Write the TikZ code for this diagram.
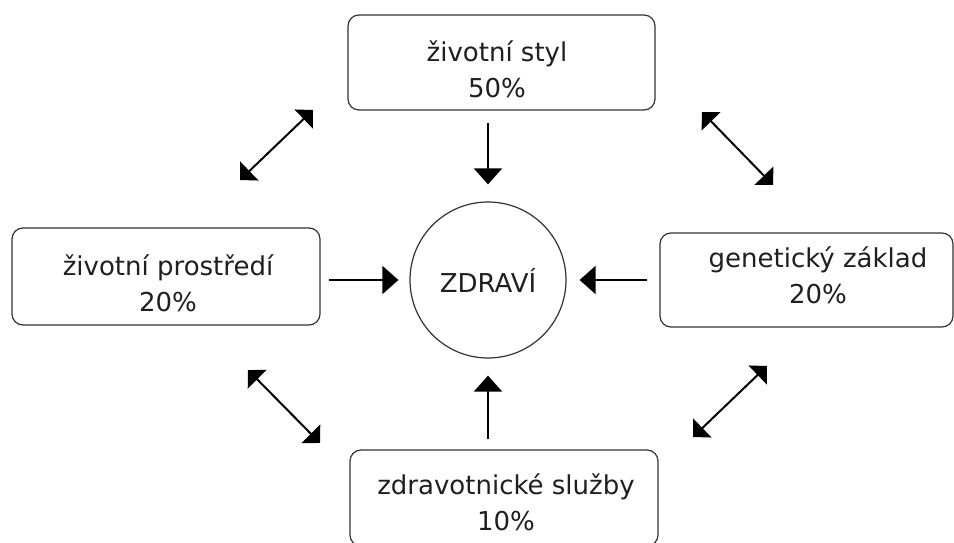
\documentclass[tikz,border=0pt]{standalone}
\usepackage{fontspec}
\setmainfont{DejaVu Sans}
\usetikzlibrary{arrows.meta,calc}
\begin{document}
\begin{tikzpicture}[x=1pt,y=-1pt,
  box/.style={draw=black!80, line width=1.2pt, rounded corners=11pt, fill=white, inner sep=0pt},
  lbl/.style={align=center, font=\fontsize{26}{36}\selectfont, text=black!88, inner sep=0pt},
  arr/.style={line width=2pt, -{Triangle[length=16pt,width=28pt]}},
  darr/.style={line width=2pt, {Triangle[length=13pt,width=26pt]}-{Triangle[length=13pt,width=26pt]}}]
\useasboundingbox (0,0) rectangle (954,543);
% boxes
\node[box, minimum width=307pt, minimum height=95pt] (top) at (501.5,62.5) {};
\node[lbl] (toptext) at (497,69) {životní styl\\50\%};
\node[box, minimum width=308pt, minimum height=97pt] (left) at (166,276.5) {};
\node[lbl] (lefttext) at (168,283) {životní prostředí\\20\%};
\node[box, minimum width=293pt, minimum height=94pt] (right) at (806.5,280) {};
\node[lbl] (righttext) at (818,275) {genetický základ\\20\%};
\node[box, minimum width=308pt, minimum height=96pt] (bottom) at (504,498) {};
\node[lbl] (bottomtext) at (506,502) {zdravotnické služby\\10\%};
% centre
\node[draw=black!80, line width=1.2pt, circle, minimum size=156pt, inner sep=0pt,
      font=\fontsize{26}{36}\selectfont, text=black!88] (zdravi) at (488,280) {ZDRAVÍ};
% arrows to centre
\draw[arr, shorten <=12pt, shorten >=17pt] (top.south -| zdravi.center) -- (zdravi.north);
\draw[arr, shorten <=8pt, shorten >=11pt] (left.east |- zdravi.center) -- (zdravi.west);
\draw[arr, shorten <=12pt, shorten >=13pt] (right.west |- zdravi.center) -- (zdravi.east);
\draw[arr, shorten <=10pt, shorten >=17pt] (bottom.north -| zdravi.center) -- (zdravi.south);
% diagonal double arrows
\coordinate (d1a) at (240,180); \coordinate (d1b) at (313,110);
\coordinate (d2a) at (702,112); \coordinate (d2b) at (773,185);
\coordinate (d3a) at (248,370); \coordinate (d3b) at (320,443);
\coordinate (d4a) at (767,366); \coordinate (d4b) at (693,437);
\draw[darr] (d1a) -- (d1b);
\draw[darr] (d2a) -- (d2b);
\draw[darr] (d3a) -- (d3b);
\draw[darr] (d4a) -- (d4b);
\end{tikzpicture}
\end{document}
